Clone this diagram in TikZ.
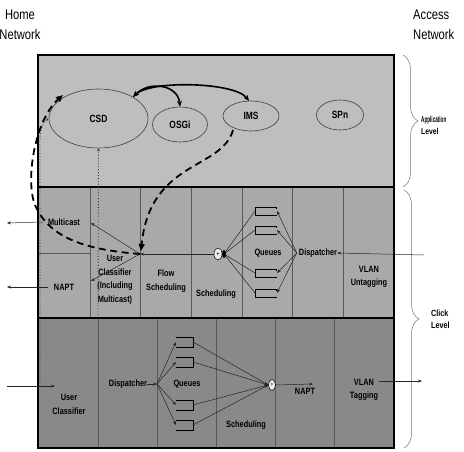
\documentclass[tikz,border=0pt]{standalone}
\usepackage{fontspec}
\setmainfont{Liberation Sans}[FakeStretch=0.8]
\usetikzlibrary{decorations.pathreplacing,arrows.meta,shapes.geometric}
\definecolor{appfill}{HTML}{BEBEBE}
\definecolor{midfill}{HTML}{A9A9A9}
\definecolor{botfill}{HTML}{898989}
\begin{document}
\begin{tikzpicture}[x=1pt,y=-1pt,
  txt/.style={font=\fontsize{9.2}{13.5}\selectfont\bfseries, inner sep=0pt, align=center},
  big/.style={font=\fontsize{14}{20}\selectfont, inner sep=0pt},
  side/.style={font=\fontsize{8.5}{12}\selectfont\bfseries, inner sep=0pt, align=left, anchor=west},
  app/.style={draw=black!75, line width=0.6pt, ellipse, inner sep=0pt, font=\fontsize{10.5}{13}\selectfont\bfseries},
  col/.style={draw=black!65, line width=0.7pt},
  tarrow/.style={draw=black!85, line width=0.5pt, -{Stealth[length=4pt,width=3pt]}},
  tline/.style={draw=black!85, line width=0.5pt},
  dasharrow/.style={line width=1.8pt, dash pattern=on 7pt off 4.5pt, -{Triangle[length=7pt,width=6pt]}},
  dots/.style={draw=black!80, line width=0.9pt, dotted, -{Stealth[length=3pt,width=3pt]}},
  brc/.style={draw=black!55, line width=0.5pt, decorate, decoration={brace, amplitude=15pt}},
  boldarrow/.style={line width=1.6pt, {Stealth[length=6pt,width=5pt]}-{Stealth[length=6pt,width=5pt]}},
  queue/.style={draw=black, line width=0.6pt},
  plus/.style={draw=black, ellipse, fill=white!85!gray, inner sep=0pt, line width=0.5pt}
]
\useasboundingbox (0,0) rectangle (464,452);
% bands
\fill[appfill] (38,55) rectangle (394,187);
\fill[midfill] (38,187) rectangle (394,318);
\fill[botfill] (38,318) rectangle (394,448);
\foreach \x in {90,140,191,242,292,343} \draw[col] (\x,187) -- (\x,318);
\foreach \x in {98,157,216,275,334} \draw[col] (\x,318) -- (\x,448);
\draw[col] (38,253) -- (90,253);
\draw[line width=1.3pt] (38,187) -- (394,187) (38,318) -- (394,318);
\draw[line width=1.6pt] (38,55) rectangle (394,448);
% headings
\node[big, align=center] (home) at (20,25) {Home\\Network};
\node[big, align=left, anchor=west] (access) at (413,25) {Access\\Network};
% braces
\draw[brc] (403,55) -- (403,187);
\draw[brc] (404,190) -- (404,448);
\node[side] (applevel) at (421,125) {\scalebox{0.68}[1]{Application}\\Level};
\node[side, font=\fontsize{9}{12}\selectfont\bfseries] (clicklevel) at (431,319) {Click\\Level};
% application level
\node[app, minimum width=99pt, minimum height=59pt] (csd) at (98.5,118.5) {CSD};
\node[app, minimum width=55pt, minimum height=35pt] (osgi) at (180,124.5) {OSGi};
\node[app, minimum width=56pt, minimum height=30pt] (ims) at (251,116) {IMS};
\node[app, minimum width=47pt, minimum height=30pt] (spn) at (340,115) {SPn};
% middle band texts
\node[txt] (multicast) at (64,222) {Multicast};
\node[txt] (napt1) at (64,287) {NAPT};
\node[txt] (ucl1) at (115,280) {User\\Classifier\\(Including\\Multicast)};
\node[txt] (flow) at (166,281) {Flow\\Scheduling};
\node[txt] (sched1) at (216,294) {Scheduling};
\node[txt] (queues1) at (268,253) {Queues};
\node[txt] (disp1) at (318,253) {Dispatcher};
\node[txt] (vlanu) at (369,277) {VLAN\\Untagging};
% bottom band texts
\node[txt] (ucl2) at (69,404.5) {User\\Classifier};
\node[txt] (disp2) at (128,384) {Dispatcher};
\node[txt] (queues2) at (187,384) {Queues};
\node[txt] (sched2) at (246,425) {Scheduling};
\node[txt] (napt2) at (305,391) {NAPT};
\node[txt] (vlant) at (364,390) {VLAN\\Tagging};
% coordinates
\coordinate (hub) at (140,254);
\coordinate (hubtop) at (141,251);
\coordinate (mcin) at (91,223);
\coordinate (napin) at (91,281);
\coordinate (mcout) at (7,223);
\coordinate (napout) at (7,287);
\coordinate (rin) at (424,255);
\coordinate (fan) at (157,384);
\coordinate (bin) at (7,386);
\coordinate (bucl) at (55,386);
\coordinate (naptin) at (313,384);
\coordinate (vtsrc) at (379,381);
\coordinate (vtout) at (422,381);
\coordinate (csdtop) at (133,97);
\coordinate (imstop) at (249,101);
\coordinate (imsbl) at (233,130);
\coordinate (csdleft) at (63,95);
\coordinate (dotstart) at (40,386);
\coordinate (dotmid) at (98,318);
% middle band scheduling
\node[plus, minimum width=8pt, minimum height=12pt] (plus1) at (218,254) {\fontsize{7}{7}\selectfont +};
\node[fill=black, ellipse, minimum width=4pt, minimum height=8pt, inner sep=0pt] (bdot) at (224,254) {};
\foreach \y/\n in {207/1,226/2,269/3,289/4} {
  \draw[queue] (276,\y) -- (255,\y) -- (255,{\y+8}) -- (277,{\y+8});
  \draw[queue] (276,\y) -- (276,{\y+2});
  \coordinate (qa\n l) at (255,{\y+4});
  \coordinate (qa\n r) at (277,{\y+4});
}
\foreach \n in {1,...,4} {
  \draw[tline] (bdot) -- (qa\n l);
  \draw[tarrow] ([xshift=-2pt]disp1.west) -- (qa\n r);
}
\draw[tarrow] (rin) -- (disp1.east);
\draw[tarrow] (plus1.west) -- (hub);
\draw[tarrow] (hub) -- (mcin);
\draw[tarrow] (hub) -- (napin);
\draw[tarrow] ([xshift=-5pt]multicast.west) -- (mcout);
\draw[tarrow] ([xshift=-6pt]napt1.west) -- (napout);
% bottom band scheduling
\node[plus, minimum width=7pt, minimum height=11pt] (plus2) at (272,385) {\fontsize{6}{6}\selectfont +};
\foreach \y/\n in {337/1,357/2,400/3,420/4} {
  \draw[queue] (176,\y) -- (193,\y) -- (193,{\y+10}) -- (176,{\y+10});
  \coordinate (qb\n l) at (176,{\y+5});
  \coordinate (qb\n r) at (193,{\y+5});
}
\draw[tarrow] (disp2.east) -- (fan);
\foreach \n in {1,...,4} {
  \draw[tarrow] (fan) -- (qb\n l);
  \draw[tarrow] (qb\n r) -- (plus2.west);
}
\draw[tarrow] (plus2.east) -- (naptin);
\draw[tarrow] (vtsrc) -- (vtout);
\draw[tarrow] (bin) -- (bucl);
% dotted links to CSD
\draw[dots] (dotstart) -- (40,140) .. controls (40,128) and (44,121) .. (csd.west);
\draw[dots] (dotmid) -- (csd.south);
% bold arrows between applications
\draw[boldarrow] (csdtop) .. controls (150,80) and (178,85) .. (osgi.north);
\draw[boldarrow] (csdtop) .. controls (150,80) and (235,82) .. (imstop);
% dashed control arrows
\draw[dasharrow] (imsbl) .. controls (222,170) and (150,160) .. (hubtop);
\draw[dasharrow] (hub) .. controls (90,250) and (50,240) .. (35,205) .. controls (25,180) and (35,120) .. (csdleft);
\end{tikzpicture}
\end{document}
